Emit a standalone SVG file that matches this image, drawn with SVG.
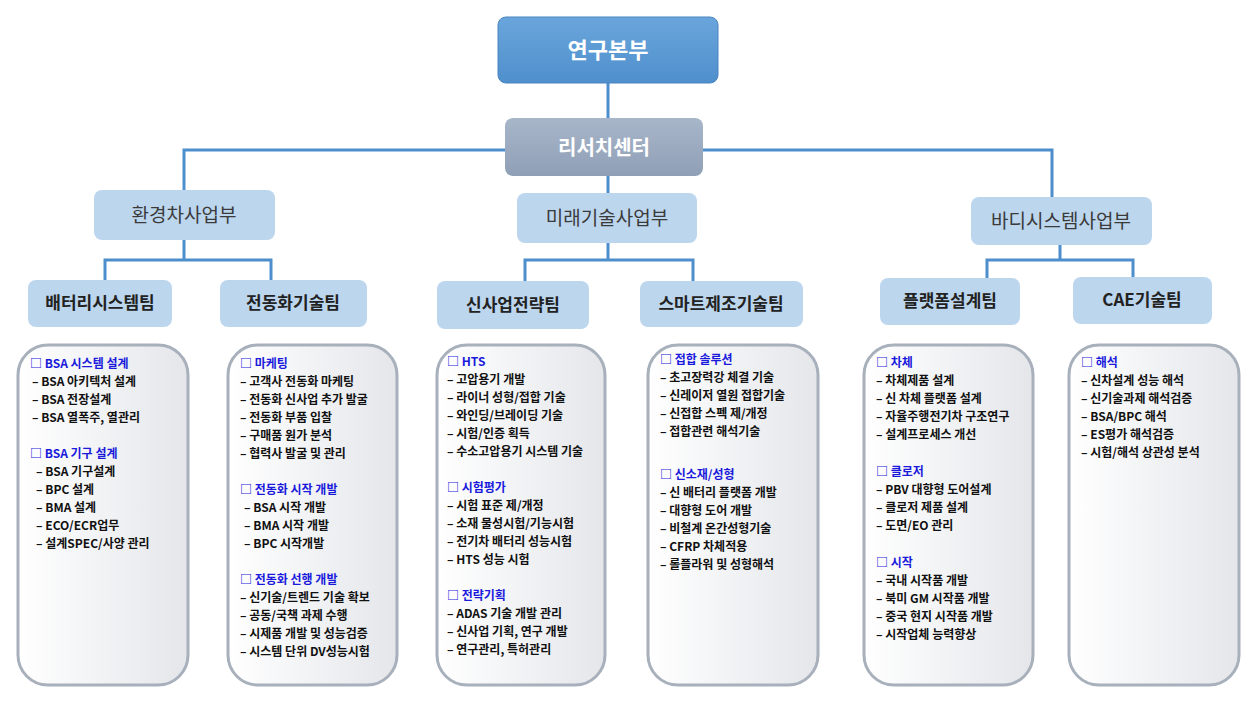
<svg xmlns="http://www.w3.org/2000/svg" width="1257" height="708" viewBox="0 0 1257 708">
<style>
text{font-family:"Noto Sans CJK KR","Noto Sans",sans-serif;}
.top{fill:url(#gTop);stroke:#4a86c0;stroke-width:1}
.rc{fill:url(#gRc)}
.div{fill:#bcd6ee}
.team{fill:#bcd6ee}
.det{fill:url(#gDet);stroke:#a8b0bc;stroke-width:3}
.t1{font-size:22px;font-weight:bold;fill:#fff;text-anchor:middle}
.t2{font-size:19px;fill:#3a3a3a;text-anchor:middle}
.t3{font-size:17px;font-weight:bold;fill:#222;text-anchor:middle}
.h{font-size:12px;font-weight:bold;fill:#1a1adc}
.l{font-size:12px;font-weight:bold;fill:#111}
.c{stroke:#4d8fcc;stroke-width:3;fill:none}
</style>
<defs>
<linearGradient id="gTop" x1="0" y1="0" x2="0" y2="1"><stop offset="0" stop-color="#6aa6dc"/><stop offset="1" stop-color="#4f8fcc"/></linearGradient>
<linearGradient id="gRc" x1="0" y1="0" x2="0" y2="1"><stop offset="0" stop-color="#a8b6c9"/><stop offset="1" stop-color="#8f9fb6"/></linearGradient>
<linearGradient id="gDet" x1="0" y1="0" x2="1" y2="0"><stop offset="0" stop-color="#ffffff"/><stop offset="1" stop-color="#e4e6ea"/></linearGradient>
</defs>
<g id="connectors">
<path class="c" d="M608 83V118M608 176V193M184 190V150H505M703 150H1052V197M184 240V260M105 280V260H271V280M608 243V260M525 281V260H693V281M1060 245V260M987 278V260H1133V277"/>
</g>
<g id="n-top"><rect class="top" x="498" y="17" width="220" height="66" rx="8"/><text class="t1" x="608" y="58">연구본부</text></g>
<g id="n-rc"><rect class="rc" x="505" y="118" width="198" height="58" rx="8"/><text class="t1" x="604" y="155" style="font-size:20px">리서치센터</text></g>
<g id="n-d1"><rect class="div" x="94" y="190" width="181" height="50" rx="8"/><text class="t2" x="184" y="222">환경차사업부</text></g>
<g id="n-d2"><rect class="div" x="517" y="193" width="180" height="50" rx="8"/><text class="t2" x="607" y="225">미래기술사업부</text></g>
<g id="n-d3"><rect class="div" x="971" y="197" width="181" height="48" rx="8"/><text class="t2" x="1061" y="228">바디시스템사업부</text></g>
<g id="n-t1"><rect class="team" x="28" y="280" width="144" height="47" rx="8"/><text class="t3" x="100" y="309">배터리시스템팀</text></g>
<g id="n-t2"><rect class="team" x="220" y="280" width="147" height="47" rx="8"/><text class="t3" x="293" y="309">전동화기술팀</text></g>
<g id="n-t3"><rect class="team" x="437" y="281" width="152" height="48" rx="8"/><text class="t3" x="513" y="311">신사업전략팀</text></g>
<g id="n-t4"><rect class="team" x="640" y="281" width="163" height="46" rx="8"/><text class="t3" x="721" y="310">스마트제조기술팀</text></g>
<g id="n-t5"><rect class="team" x="880" y="278" width="140" height="47" rx="8"/><text class="t3" x="950" y="307">플랫폼설계팀</text></g>
<g id="n-t6"><rect class="team" x="1073" y="277" width="139" height="47" rx="8"/><text class="t3" x="1142" y="306">CAE기술팀</text></g>
<g id="n-b1"><rect class="det" x="18" y="345" width="170" height="340" rx="30"/>
<text x="30" y="368"><tspan class="h">□ BSA 시스템 설계</tspan><tspan class="l" x="32" dy="18">– BSA 아키텍처 설계</tspan><tspan class="l" x="32" dy="18">– BSA 전장설계</tspan><tspan class="l" x="32" dy="18">– BSA 열폭주, 열관리</tspan><tspan class="h" x="30" dy="36">□ BSA 기구 설계</tspan><tspan class="l" x="36" dy="18">– BSA 기구설계</tspan><tspan class="l" x="36" dy="18">– BPC 설계</tspan><tspan class="l" x="36" dy="18">– BMA 설계</tspan><tspan class="l" x="36" dy="18">– ECO/ECR업무</tspan><tspan class="l" x="36" dy="18">– 설계SPEC/사양 관리</tspan></text></g>
<g id="n-b2"><rect class="det" x="228" y="345" width="169" height="340" rx="30"/>
<text x="240" y="368"><tspan class="h">□ 마케팅</tspan><tspan class="l" x="240" dy="18">– 고객사 전동화 마케팅</tspan><tspan class="l" x="240" dy="18">– 전동화 신사업 추가 발굴</tspan><tspan class="l" x="240" dy="18">– 전동화 부품 입찰</tspan><tspan class="l" x="240" dy="18">– 구매품 원가 분석</tspan><tspan class="l" x="240" dy="18">– 협력사 발굴 및 관리</tspan><tspan class="h" x="240" dy="36">□  전동화 시작 개발</tspan><tspan class="l" x="244" dy="18">– BSA 시작 개발</tspan><tspan class="l" x="244" dy="18">– BMA 시작 개발</tspan><tspan class="l" x="244" dy="18">– BPC 시작개발</tspan><tspan class="h" x="240" dy="36">□ 전동화 선행 개발</tspan><tspan class="l" x="240" dy="18">– 신기술/트렌드 기술 확보</tspan><tspan class="l" x="240" dy="18">– 공동/국책 과제 수행</tspan><tspan class="l" x="240" dy="18">– 시제품 개발 및 성능검증</tspan><tspan class="l" x="240" dy="18">– 시스템 단위 DV성능시험</tspan></text></g>
<g id="n-b3"><rect class="det" x="437" y="345" width="168" height="340" rx="30"/>
<text x="447" y="366"><tspan class="h">□ HTS</tspan><tspan class="l" x="447" dy="18">– 고압용기  개발</tspan><tspan class="l" x="447" dy="18">– 라이너 성형/접합 기술</tspan><tspan class="l" x="447" dy="18">– 와인딩/브레이딩 기술</tspan><tspan class="l" x="447" dy="18">– 시험/인증 획득</tspan><tspan class="l" x="447" dy="18">– 수소고압용기 시스템 기술</tspan><tspan class="h" x="447" dy="36">□ 시험평가</tspan><tspan class="l" x="447" dy="18">– 시험 표준 제/개정</tspan><tspan class="l" x="447" dy="18">– 소재 물성시험/기능시험</tspan><tspan class="l" x="447" dy="18">– 전기차 배터리 성능시험</tspan><tspan class="l" x="447" dy="18">– HTS 성능 시험</tspan><tspan class="h" x="447" dy="36">□ 전략기획</tspan><tspan class="l" x="447" dy="18">– ADAS 기술 개발 관리</tspan><tspan class="l" x="447" dy="18">– 신사업 기획, 연구 개발</tspan><tspan class="l" x="447" dy="18">– 연구관리, 특허관리</tspan></text></g>
<g id="n-b4"><rect class="det" x="648" y="345" width="170" height="340" rx="30"/>
<text x="660" y="364"><tspan class="h">□ 접합 솔루션</tspan><tspan class="l" x="660" dy="18">– 초고장력강 체결 기술</tspan><tspan class="l" x="660" dy="18">– 신레이저 열원 접합기술</tspan><tspan class="l" x="660" dy="18">– 신접합 스펙 제/개정</tspan><tspan class="l" x="660" dy="18">– 접합관련 해석기술</tspan><tspan class="h" x="660" dy="43">□ 신소재/성형</tspan><tspan class="l" x="660" dy="18">– 신 배터리 플랫폼 개발</tspan><tspan class="l" x="660" dy="18">– 대향형 도어 개발</tspan><tspan class="l" x="660" dy="18">– 비철계 온간성형기술</tspan><tspan class="l" x="660" dy="18">– CFRP 차체적용</tspan><tspan class="l" x="660" dy="18">– 롤플라워 및 성형해석</tspan></text></g>
<g id="n-b5"><rect class="det" x="864" y="345" width="169" height="340" rx="30"/>
<text x="876" y="367"><tspan class="h">□ 차체</tspan><tspan class="l" x="876" dy="18">– 차체제품 설계</tspan><tspan class="l" x="876" dy="18">– 신 차체 플랫폼 설계</tspan><tspan class="l" x="876" dy="18">– 자율주행전기차 구조연구</tspan><tspan class="l" x="876" dy="18">–  설계프로세스 개선</tspan><tspan class="h" x="876" dy="37">□ 클로저</tspan><tspan class="l" x="876" dy="18">– PBV 대향형 도어설계</tspan><tspan class="l" x="876" dy="18">– 클로저 제품 설계</tspan><tspan class="l" x="876" dy="18">– 도면/EO 관리</tspan><tspan class="h" x="876" dy="37">□ 시작</tspan><tspan class="l" x="876" dy="18">– 국내 시작품 개발</tspan><tspan class="l" x="876" dy="18">– 북미 GM 시작품 개발</tspan><tspan class="l" x="876" dy="18">– 중국 현지 시작품 개발</tspan><tspan class="l" x="876" dy="18">– 시작업체 능력향상</tspan></text></g>
<g id="n-b6"><rect class="det" x="1069" y="345" width="170" height="340" rx="30"/>
<text x="1081" y="367"><tspan class="h">□ 해석</tspan><tspan class="l" x="1081" dy="18">– 신차설계 성능 해석</tspan><tspan class="l" x="1081" dy="18">– 신기술과제 해석검증</tspan><tspan class="l" x="1081" dy="18">– BSA/BPC 해석</tspan><tspan class="l" x="1081" dy="18">– ES평가 해석검증</tspan><tspan class="l" x="1081" dy="18">– 시험/해석 상관성 분석</tspan></text></g>
</svg>
